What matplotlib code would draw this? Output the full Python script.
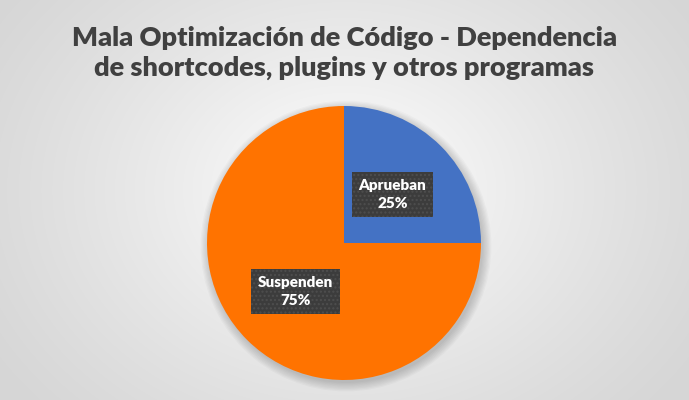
import numpy as np
import matplotlib
matplotlib.use("Agg")
import matplotlib.pyplot as plt
from matplotlib.patches import Circle

title = "Mala Optimización de Código - Dependencia\nde shortcodes, plugins y otros programas"
categories = ["Aprueban", "Suspenden"]
values = [25, 75]
colors = ["#4472C4", "#FF7300"]

W, H = 689, 400
fig = plt.figure(figsize=(W / 100, H / 100), dpi=100)

# background radial gradient
bg = fig.add_axes([0, 0, 1, 1])
bg.set_axis_off()
yy, xx = np.mgrid[0:H, 0:W]
d = np.sqrt(((xx - 344) / 420.0) ** 2 + ((yy - 190) / 330.0) ** 2)
d = np.clip(d, 0, 1)
lo, hi = 1.0, 0.84
g = hi + (lo - hi) * (1 - d) ** 1.2
img = np.dstack([g, g, g])
bg.imshow(img, extent=[0, W, H, 0], aspect="auto", interpolation="bilinear")
bg.set_xlim(0, W)
bg.set_ylim(H, 0)

# soft shadow around pie
for k in range(8):
    r = 137 + 1.2 * k
    bg.add_patch(Circle((346, 246), r, facecolor="black", edgecolor="none", alpha=0.025))

cx, cy, R = 344, 243, 137
ax = fig.add_axes([(cx - R) / W, (H - cy - R) / H, 2 * R / W, 2 * R / H])
ax.set_facecolor("none")

labels_iter = iter(categories)

def fmt(p):
    return f"{next(labels_iter)}\n{p:.0f}%"

wedges, texts, autotexts = ax.pie(values, colors=colors, startangle=90, counterclock=False,
                                  autopct=fmt, pctdistance=0.5, radius=1,
                                  wedgeprops=dict(linewidth=0))
ax.set_xlim(-1, 1)
ax.set_ylim(-1, 1)
ax.set_aspect("equal")

for t in autotexts:
    t.set_color("white")
    t.set_fontsize(11)
    t.set_fontweight("heavy")
    t.set_family(["Lato", "DejaVu Sans"])
    t.set_linespacing(1.45)
    t.set_bbox(dict(boxstyle="square,pad=0.45", facecolor="#3C3C3C", edgecolor="#4E4E4E",
                    linewidth=0, hatch="....", alpha=1))

fig.text(0.5, 0.935, title, ha="center", va="top", fontsize=19.5, fontweight="heavy",
         color="#404040", family=["Lato", "DejaVu Sans"], linespacing=1.3)

fig.savefig("out.png", dpi=100)
